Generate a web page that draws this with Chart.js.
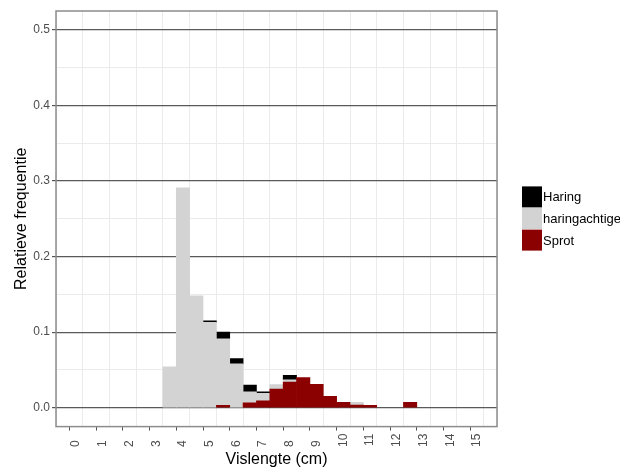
<!DOCTYPE html>
<html>
<head>
<meta charset="utf-8">
<script src="https://cdn.jsdelivr.net/npm/chart.js@4/dist/chart.umd.min.js"></script>
<style>
  html, body { margin: 0; padding: 0; background: #ffffff; }
  #wrap { width: 620px; height: 469px; }
</style>
</head>
<body>
<div id="wrap"><canvas id="c" width="620" height="469"></canvas></div>
<script>
// Length-class centres (cm), 0.5 cm bins
const binCentres = [3.5, 4, 4.5, 5, 5.5, 6, 6.5, 7, 7.5, 8, 8.5, 9, 9.5, 10, 10.5, 11, 11.5, 12, 12.5];

// Relative frequency per bin for each group
const sprot =         [0, 0, 0, 0, 0.003, 0, 0.0065, 0.009, 0.0245, 0.034, 0.040, 0.031, 0.015, 0.007, 0.0035, 0.003, 0, 0, 0.007];
const haringachtige = [0.054, 0.291, 0.148, 0.113, 0.088, 0.058, 0.0145, 0.010, 0.006, 0.003, 0, 0, 0, 0, 0.0035, 0, 0, 0, 0];
const haring =        [0, 0, 0, 0.002, 0.009, 0.007, 0.009, 0.002, 0, 0.006, 0, 0, 0, 0, 0, 0, 0, 0, 0];

const seriesNames = ['Haring', 'haringachtige', 'Sprot'];

// Axis tick labels
const xTickValues = [0, 1, 2, 3, 4, 5, 6, 7, 8, 9, 10, 11, 12, 13, 14, 15];
const yTickValues = [0, 0.1, 0.2, 0.3, 0.4, 0.5];

const FONT = '"Liberation Sans", Arial, sans-serif';
const colours = { Haring: '#000000', haringachtige: '#d3d3d3', Sprot: '#8b0000' };

// Major + minor grid positions (minor halfway between majors)
const xGrid = [];
xTickValues.forEach((v, i) => { if (i === 0) xGrid.push(v - 0.5); xGrid.push(v); xGrid.push(v + 0.5); });
const yGrid = [];
yTickValues.forEach((v, i) => { yGrid.push(v); if (i < yTickValues.length - 1) yGrid.push(Math.round((v + 0.05) * 100) / 100); });

const isMajorX = v => xTickValues.some(t => Math.abs(t - v) < 1e-9);
const isMajorY = v => yTickValues.some(t => Math.abs(t - v) < 1e-9);

// Empty bins are left out (null) so no zero-height sliver is drawn
const toPoints = arr => binCentres.map((x, i) => ({ x: x, y: arr[i] === 0 ? null : arr[i] }));

// Legend drawn at the right side, top-to-bottom in stack order (top first)
const sideLegend = {
  id: 'sideLegend',
  afterDraw(chart) {
    const ctx = chart.ctx;
    const area = chart.chartArea;
    const x0 = area.right + 25;
    const pitch = 21.6;
    const boxW = 20, boxH = 21;
    const top = (area.top + area.bottom) / 2 - (pitch * seriesNames.length) / 2;
    ctx.save();
    ctx.font = '13px ' + FONT;
    ctx.textBaseline = 'middle';
    ctx.textAlign = 'left';
    seriesNames.forEach((name, i) => {
      const ds = chart.data.datasets.find(d => d.label === name);
      const y = top + i * pitch;
      ctx.fillStyle = ds.backgroundColor;
      ctx.fillRect(x0, y, boxW, boxH);
      ctx.fillStyle = '#000000';
      ctx.fillText(name, x0 + boxW + 1, y + boxH / 2 + 1);
    });
    ctx.restore();
  }
};

// Panel outline on top of the bars
const panelBorder = {
  id: 'panelBorder',
  afterDatasetsDraw(chart) {
    const { ctx, chartArea: a } = chart;
    ctx.save();
    ctx.strokeStyle = '#8c8c8c';
    ctx.lineWidth = 1.5;
    ctx.strokeRect(a.left, a.top, a.right - a.left, a.bottom - a.top);
    ctx.restore();
  }
};

new Chart(document.getElementById('c'), {
  type: 'bar',
  data: {
    datasets: [
      { label: 'Sprot', data: toPoints(sprot), backgroundColor: colours.Sprot },
      { label: 'haringachtige', data: toPoints(haringachtige), backgroundColor: colours.haringachtige },
      { label: 'Haring', data: toPoints(haring), backgroundColor: colours.Haring }
    ]
  },
  options: {
    responsive: false,
    animation: false,
    devicePixelRatio: 1,
    layout: { padding: { top: 11, right: 123, left: 0, bottom: 0 } },
    datasets: { bar: { barPercentage: 1, categoryPercentage: 1, borderWidth: 0 } },
    plugins: { legend: { display: false }, tooltip: { enabled: false } },
    scales: {
      x: {
        type: 'linear',
        stacked: true,
        min: -0.75,
        max: 15.75,
        offset: false,
        afterBuildTicks: axis => { axis.ticks = xGrid.map(v => ({ value: v })); },
        afterFit: axis => { axis.height = 42.4; },
        ticks: {
          autoSkip: false,
          minRotation: 90,
          maxRotation: 90,
          padding: 3,
          color: '#4d4d4d',
          font: { family: FONT, size: 12 },
          callback: v => isMajorX(v) ? (String(v).length === 1 ? String(v) + '  ' : String(v)) : ''
        },
        grid: {
          color: c => (c.tick && isMajorX(c.tick.value)) ? 'rgba(0,0,0,0)' : '#ebebeb',
          tickColor: c => (c.tick && isMajorX(c.tick.value)) ? '#555555' : 'rgba(0,0,0,0)',
          tickLength: 4,
          lineWidth: 1
        },
        border: { display: false },
        title: {
          display: true,
          text: 'Vislengte (cm)',
          color: '#000000',
          font: { family: FONT, size: 16 },
          padding: { top: 0, bottom: 0 }
        }
      },
      y: {
        stacked: true,
        min: -0.025,
        max: 0.525,
        afterBuildTicks: axis => { axis.ticks = yGrid.map(v => ({ value: v })); },
        afterFit: axis => { axis.width = 56; },
        ticks: {
          autoSkip: false,
          padding: 2,
          color: '#4d4d4d',
          font: { family: FONT, size: 12 },
          callback: v => isMajorY(v) ? v.toFixed(1) : ''
        },
        grid: {
          color: c => (c.tick && isMajorY(c.tick.value)) ? '#5a5a5a' : '#ebebeb',
          tickColor: c => (c.tick && isMajorY(c.tick.value)) ? '#555555' : 'rgba(0,0,0,0)',
          tickLength: 4,
          lineWidth: c => (c.tick && isMajorY(c.tick.value)) ? 1.2 : 1
        },
        border: { display: false },
        title: {
          display: true,
          text: 'Relatieve frequentie',
          color: '#000000',
          font: { family: FONT, size: 16 },
          padding: { top: 12, bottom: 0 }
        }
      }
    }
  },
  plugins: [panelBorder, sideLegend]
});
</script>
</body>
</html>
